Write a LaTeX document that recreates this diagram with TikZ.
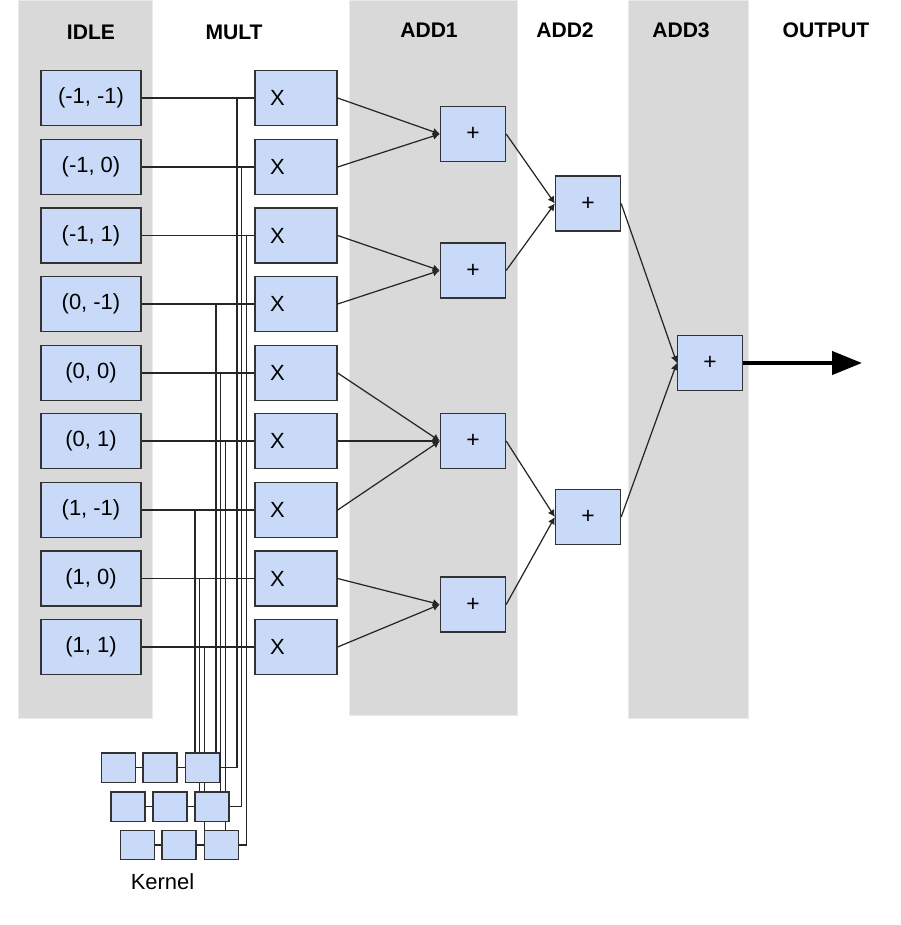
\documentclass[tikz,border=0pt]{standalone}
\usepackage{fontspec}
\setmainfont{Liberation Sans}
\usepackage{xcolor}
\definecolor{laneGray}{RGB}{217,217,217}
\definecolor{cellBlue}{RGB}{201,218,248}
\definecolor{cellLine}{RGB}{51,51,51}
\usetikzlibrary{arrows.meta}
\pgfdeclarelayer{lanes}
\pgfdeclarelayer{wires}
\pgfsetlayers{lanes,wires,main}

\begin{document}
\begin{tikzpicture}[x=0.02cm,y=-0.02cm,
cell/.style={draw=cellLine,line width=0.75pt,fill=cellBlue,inner sep=0pt,minimum height=1.1cm},
idle/.style={cell,minimum width=2cm,font=\fontsize{12.5}{14}\selectfont},
mult/.style={cell,text width=1.04cm,inner xsep=0.3cm,align=left,font=\fontsize{12.5}{14}\selectfont},
adder/.style={cell,minimum width=1.3cm,font=\fontsize{13}{15}\selectfont},
kern/.style={cell,minimum width=0.68cm,minimum height=0.59cm},
lane/.style={fill=laneGray,draw=black!8,line width=0.5pt},
hdr/.style={font=\bfseries\fontsize{12}{14}\selectfont},
wire/.style={line width=0.75pt,draw=black!85},
sum/.style={-{Latex[length=1.4mm,width=1.5mm]},line width=0.7pt,draw=black!85},
result/.style={-{Triangle[length=6mm,width=4.6mm]},line width=2.4pt}]
\useasboundingbox (0,0) rectangle (900,925);
\begin{pgfonlayer}{lanes}
\draw[lane] (18,0) rectangle (152,718);
\draw[lane] (349,0) rectangle (517,715);
\draw[lane] (628,0) rectangle (748,718);
\end{pgfonlayer}
\node[hdr] (hIdle) at (91,32) {IDLE};
\node[hdr] (hMult) at (234,32) {MULT};
\node[hdr] (hAdd1) at (429,30) {ADD1};
\node[hdr] (hAdd2) at (565,30) {ADD2};
\node[hdr] (hAdd3) at (681,30) {ADD3};
\node[hdr] (hOut) at (826,30) {OUTPUT};
\node[idle] (i1) at (91,98) {(-1, -1)};
\node[idle] (i2) at (91,167) {(-1, 0)};
\node[idle] (i3) at (91,235.5) {(-1, 1)};
\node[idle] (i4) at (91,304) {(0, -1)};
\node[idle] (i5) at (91,373) {(0, 0)};
\node[idle] (i6) at (91,441) {(0, 1)};
\node[idle] (i7) at (91,510) {(1, -1)};
\node[idle] (i8) at (91,578.5) {(1, 0)};
\node[idle] (i9) at (91,647) {(1, 1)};
\node[mult] (x1) at (296,98) {X};
\node[mult] (x2) at (296,167) {X};
\node[mult] (x3) at (296,235.5) {X};
\node[mult] (x4) at (296,304) {X};
\node[mult] (x5) at (296,373) {X};
\node[mult] (x6) at (296,441) {X};
\node[mult] (x7) at (296,510) {X};
\node[mult] (x8) at (296,578.5) {X};
\node[mult] (x9) at (296,647) {X};
\node[adder] (a1) at (473,134) {+};
\node[adder] (a2) at (473,270.5) {+};
\node[adder] (a3) at (473,441) {+};
\node[adder] (a4) at (473,604.5) {+};
\node[adder] (b1) at (588,203.5) {+};
\node[adder] (b2) at (588,517) {+};
\node[adder] (c1) at (710,363) {+};
\coordinate (outEnd) at (862,363);
\node[kern] (k11) at (118.7,767.7) {};
\node[kern] (k12) at (160,767.7) {};
\node[kern] (k13) at (202.5,767.7) {};
\node[kern] (k21) at (128,806.7) {};
\node[kern] (k22) at (170,806.7) {};
\node[kern] (k23) at (212,806.7) {};
\node[kern] (k31) at (137.5,845) {};
\node[kern] (k32) at (179,845) {};
\node[kern] (k33) at (221.3,845) {};
\node[font=\fontsize{12.5}{14}\selectfont] (kLabel) at (162.5,882) {Kernel};
\begin{pgfonlayer}{wires}
\draw[wire] (i1)--(x1); \draw[wire] (i2)--(x2); \draw[wire] (i3)--(x3);
\draw[wire] (i4)--(x4); \draw[wire] (i5)--(x5); \draw[wire] (i6)--(x6);
\draw[wire] (i7)--(x7); \draw[wire] (i8)--(x8); \draw[wire] (i9)--(x9);
\draw[wire] (237,0 |- x1)--(237,0 |- k13)--(k13);
\draw[wire] (241.6,0 |- x2)--(241.6,0 |- k23)--(k23);
\draw[wire] (246.4,0 |- x3)--(246.4,0 |- k33)--(k33);
\draw[wire] (216,0 |- x4)--(216,0 |- k13.north);
\draw[wire] (220.7,0 |- x5)--(220.7,0 |- k23.north);
\draw[wire] (225.3,0 |- x6)--(225.3,0 |- k33.north);
\draw[wire] (195,0 |- x7)--(195,0 |- k13.north);
\draw[wire] (199.7,0 |- x8)--(199.7,0 |- k23.north);
\draw[wire] (204.4,0 |- x9)--(204.4,0 |- k33.north);
\draw[wire] (k11)--(k12)--(k13);
\draw[wire] (k21)--(k22)--(k23);
\draw[wire] (k31)--(k32)--(k33);
\end{pgfonlayer}
\draw[sum] (x1.east)--(a1.west);
\draw[sum] (x2.east)--(a1.west);
\draw[sum] (x3.east)--(a2.west);
\draw[sum] (x4.east)--(a2.west);
\draw[sum] (x5.east)--(a3.west);
\draw[sum] (x6.east)--(a3.west);
\draw[sum] (x7.east)--(a3.west);
\draw[sum] (x8.east)--(a4.west);
\draw[sum] (x9.east)--(a4.west);
\draw[sum] (a1.east)--(b1.west); \draw[sum] (a2.east)--(b1.west);
\draw[sum] (a3.east)--(b2.west); \draw[sum] (a4.east)--(b2.west);
\draw[sum] (b1.east)--(c1.west); \draw[sum] (b2.east)--(c1.west);
\draw[result] (c1)--(outEnd);
\end{tikzpicture}
\end{document}
